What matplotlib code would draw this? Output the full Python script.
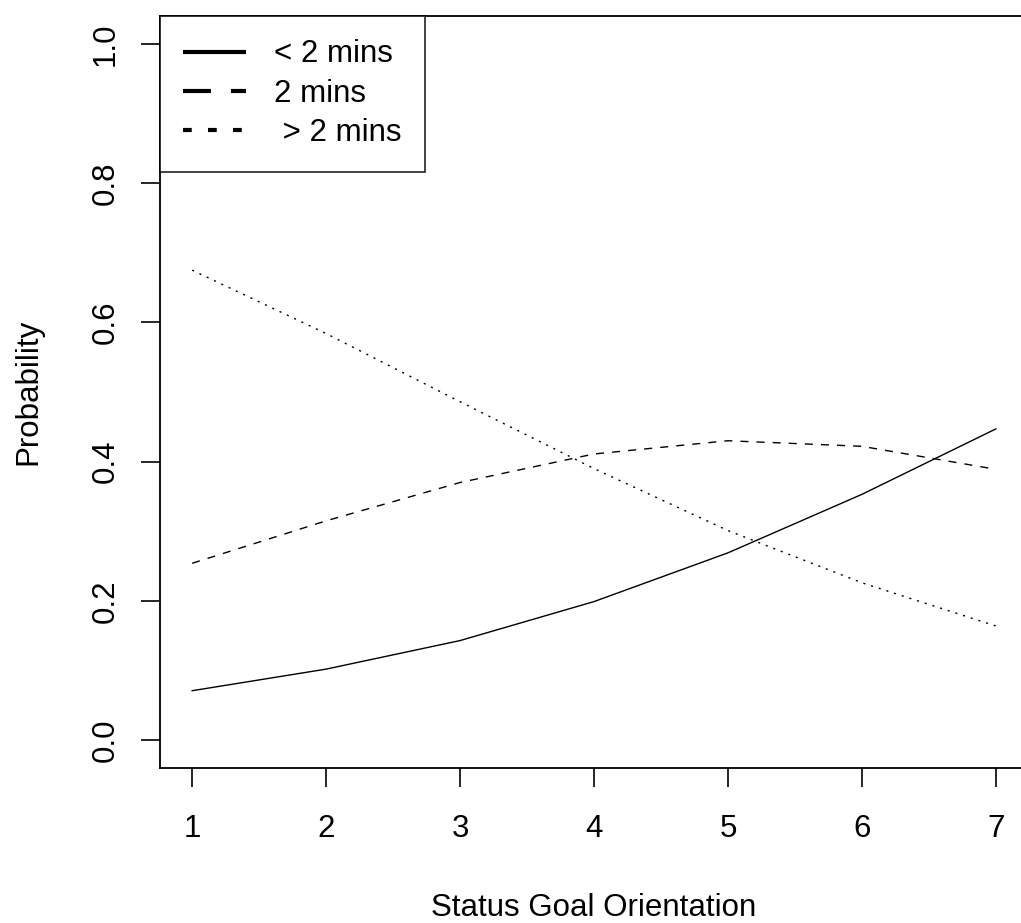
import numpy as np
import matplotlib.pyplot as plt
from matplotlib.lines import Line2D

plt.rcParams['font.family'] = ['Liberation Sans', 'DejaVu Sans']

# predicted probabilities
sgo        = [1, 2, 3, 4, 5, 6, 7]
p_under2   = [0.071, 0.102, 0.143, 0.199, 0.269, 0.353, 0.447]
p_2min     = [0.254, 0.315, 0.370, 0.411, 0.430, 0.422, 0.389]
p_over2    = [0.675, 0.584, 0.486, 0.390, 0.301, 0.226, 0.164]
labels     = ['< 2 mins', '2 mins', ' > 2 mins']
xticks     = [1, 2, 3, 4, 5, 6, 7]
yticks     = [0.0, 0.2, 0.4, 0.6, 0.8, 1.0]

fs = 22.5
fig = plt.figure(figsize=(10.21, 9.23), dpi=100)
ax = fig.add_axes([160/1021, 155/923, 868/1021, 752/923])

ax.plot(sgo, p_under2, color='black', lw=1.0, ls='-')
ax.plot(sgo, p_2min, color='black', lw=1.0, ls=(0, (5.8, 5.8)))
ax.plot(sgo, p_over2, color='black', lw=1.0, ls=(0, (1.5, 4.3)))

ax.set_xlim(0.76, 7.24)
ax.set_ylim(-0.04, 1.04)
ax.set_xticks(xticks)
ax.set_xticklabels([str(v) for v in xticks])
ax.set_yticks(yticks)
ax.set_yticklabels(['%.1f' % v for v in yticks], rotation=90, va='center')
ax.tick_params(axis='both', direction='out', length=14, width=1.2,
               labelsize=fs, colors='black')
ax.tick_params(axis='x', pad=19)
ax.tick_params(axis='y', pad=14)
for s in ax.spines.values():
    s.set_linewidth(1.3)

ax.set_xlabel('Status Goal Orientation', fontsize=fs, va='center')
ax.xaxis.set_label_coords(0.5, -0.186)
ax.set_ylabel('Probability', fontsize=fs, ha='center', va='center')
ax.yaxis.set_label_coords(-0.152, 0.5)

handles = [Line2D([], [], color='black', lw=3.0, ls='-', solid_capstyle='butt'),
           Line2D([], [], color='black', lw=3.0, ls=(0, (6.7, 4.8))),
           Line2D([], [], color='black', lw=3.0, ls=(0, (2.1, 3.9)))]
leg = ax.legend(handles, labels, loc='upper left', bbox_to_anchor=(0, 1),
                borderaxespad=0, fontsize=fs, frameon=True, fancybox=False,
                edgecolor='black', handlelength=2.0, handletextpad=0.9,
                borderpad=0.75, labelspacing=0.3)
leg.get_frame().set_linewidth(1.3)

fig.savefig('out.png', dpi=100)
